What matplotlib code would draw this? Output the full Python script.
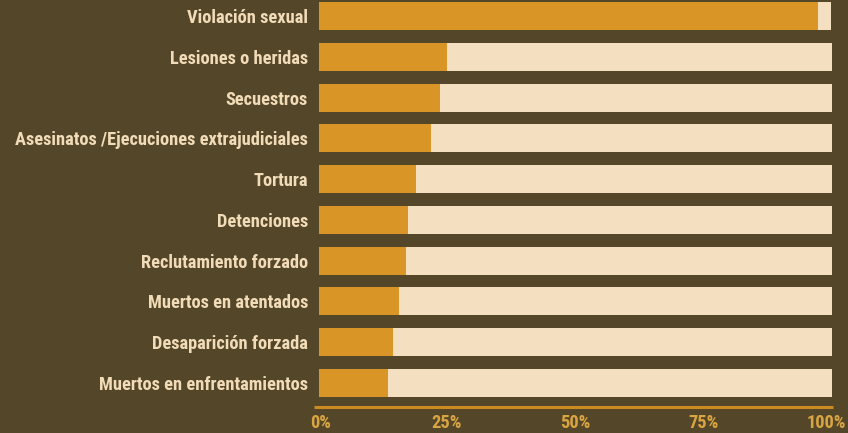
import matplotlib
matplotlib.use("Agg")
import matplotlib.pyplot as plt
import matplotlib.transforms as mtransforms
from matplotlib import font_manager as fm

categories = [
    "Violación sexual",
    "Lesiones o heridas",
    "Secuestros",
    "Asesinatos /Ejecuciones extrajudiciales",
    "Tortura",
    "Detenciones",
    "Reclutamiento forzado",
    "Muertos en atentados",
    "Desaparición forzada",
    "Muertos en enfrentamientos",
]
share_a = [97.3, 25.0, 23.7, 21.9, 19.0, 17.4, 17.0, 15.7, 14.5, 13.5]
share_b = [2.5, 75.0, 76.3, 78.1, 81.0, 82.6, 83.0, 84.3, 85.5, 86.5]
tick_values = [0, 25, 50, 75, 100]
tick_labels = ["0%", "25%", "50%", "75%", "100%"]

BG = "#544629"
ORANGE = "#d99526"
CREAM = "#f4dfc0"
GOLD = "#c98b22"
TICKCOL = "#d9a542"
LABELCOL = "#f2dcb8"


def pick_font():
    entries = fm.fontManager.ttflist
    prefs = ["Liberation Sans Narrow", "Roboto Condensed", "Open Sans Condensed",
             "Noto Sans Condensed", "DejaVu Sans Condensed"]
    for p in prefs:
        for e in entries:
            if e.name == p and (e.weight in ("bold", 700) or e.weight == 700) and e.style == "normal":
                return e.fname
    for e in entries:
        nm = e.fname.lower()
        if "condensed" in nm and "bold" in nm and "oblique" not in nm and "italic" not in nm:
            return e.fname
    for e in entries:
        if (("narrow" in e.fname.lower()) or e.stretch in ("condensed", "semi-condensed")) \
                and e.weight in ("bold", 700) and e.style == "normal":
            return e.fname
    return None


path = pick_font()
if path:
    fp = fm.FontProperties(fname=path, size=13.2)
    fp_tick = fm.FontProperties(fname=path, size=13.2)
else:
    fp = fm.FontProperties(family="DejaVu Sans", weight="bold", size=10)
    fp_tick = fp.copy()

W, H = 848, 433
fig = plt.figure(figsize=(W / 100, H / 100), dpi=100, facecolor=BG)
x0, x1 = 318.5, 832
ybot = 407
ax = fig.add_axes([x0 / W, 1 - ybot / H, (x1 - x0) / W, ybot / H])
ax.set_facecolor(BG)

pos = list(range(len(categories)))
ax.barh(pos, share_a, height=0.686, color=ORANGE, linewidth=0)
ax.barh(pos, share_b, left=share_a, height=0.686, color=CREAM, linewidth=0)

row = 40.78
top_i = -16 / row
bot_i = (ybot - 16) / row
ax.set_ylim(bot_i, top_i)
ax.set_xlim(0, 100)

ax.set_yticks(pos)
ax.set_yticklabels(categories, color=LABELCOL, fontproperties=fp)
ax.tick_params(axis="y", length=0, pad=7.5)
ax.set_xticks(tick_values)
ax.set_xticklabels(tick_labels, color=TICKCOL, fontproperties=fp_tick)
ax.tick_params(axis="x", length=0, pad=5)

xl = ax.get_xticklabels()
xl[0].set_transform(xl[0].get_transform() + mtransforms.ScaledTranslation(2.5 / 100, 0, fig.dpi_scale_trans))
xl[-1].set_horizontalalignment("right")
xl[-1].set_transform(xl[-1].get_transform() + mtransforms.ScaledTranslation(14 / 100, 0, fig.dpi_scale_trans))

for s in ax.spines.values():
    s.set_visible(False)

ax.plot([-0.009, 1.002], [0, 0], transform=ax.transAxes, color=GOLD, lw=2.2,
        clip_on=False, solid_capstyle="butt")

fig.savefig("out.png", dpi=100, facecolor=BG)
